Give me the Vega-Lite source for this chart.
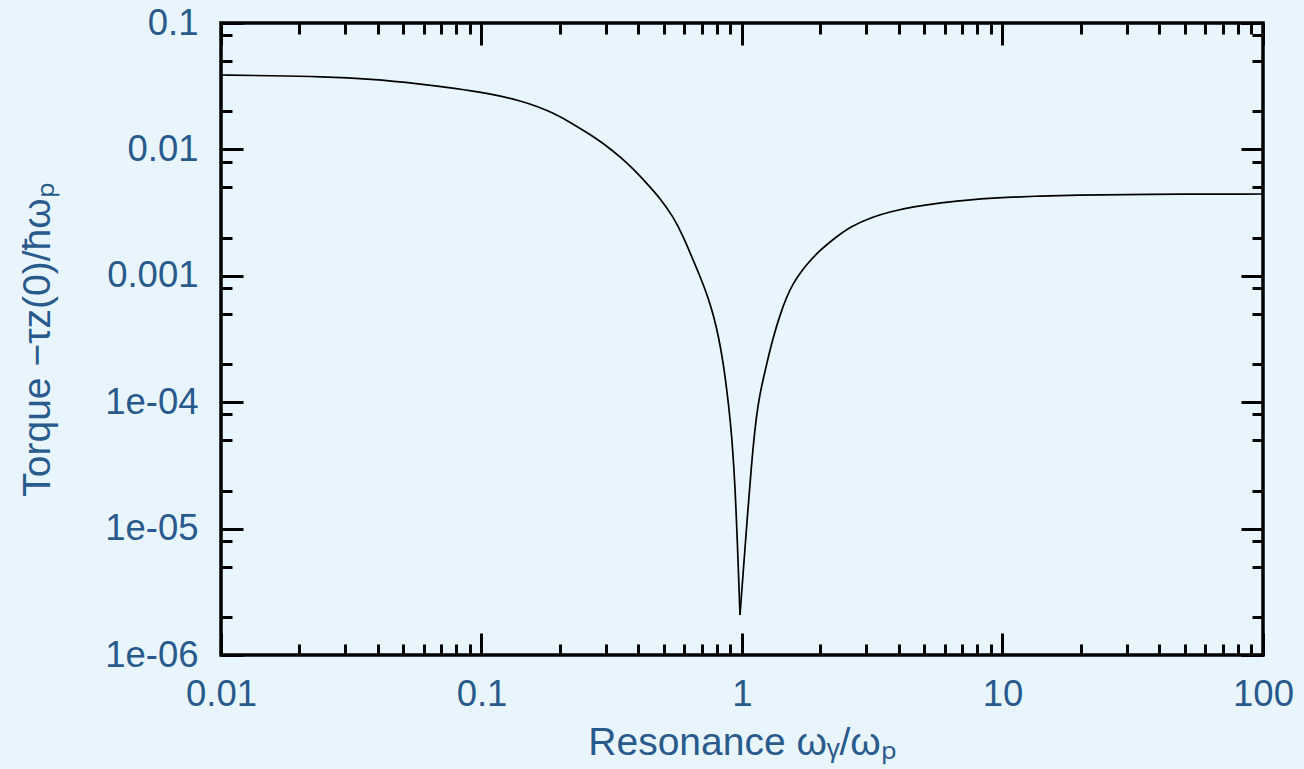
{
  "$schema": "https://vega.github.io/schema/vega-lite/v6.json",
  "width": 1042,
  "height": 632,
  "autosize": {"type": "none"},
  "padding": {"left": 221, "top": 23, "right": 41, "bottom": 114},
  "background": "#e9f5fd",
  "config": {
    "view": {"stroke": "#000000", "strokeWidth": 3.5, "fill": null},
    "axis": {
      "domain": false,
      "grid": false,
      "tickColor": "#000000",
      "tickWidth": 3,
      "labelFont": "Liberation Sans",
      "labelFontSize": 36.5,
      "labelColor": "#295a8c",
      "labelOverlap": false,
      "labelFlush": false,
      "labelBound": false,
      "titleFont": "Liberation Sans",
      "titleFontSize": 39,
      "titleFontWeight": "normal",
      "titleColor": "#295a8c"
    }
  },
  "data": {
    "values": [
      {"branch": "below", "ratio": 0.01, "torque": 0.03879},
      {"branch": "below", "ratio": 0.01556, "torque": 0.0383},
      {"branch": "below", "ratio": 0.0242, "torque": 0.03761},
      {"branch": "below", "ratio": 0.03765, "torque": 0.03606},
      {"branch": "below", "ratio": 0.05857, "torque": 0.03292},
      {"branch": "below", "ratio": 0.07864, "torque": 0.03044},
      {"branch": "below", "ratio": 0.1059, "torque": 0.02779},
      {"branch": "below", "ratio": 0.1418, "torque": 0.02428},
      {"branch": "below", "ratio": 0.1643, "torque": 0.02177},
      {"branch": "below", "ratio": 0.1898, "torque": 0.0193},
      {"branch": "below", "ratio": 0.2207, "torque": 0.01626},
      {"branch": "below", "ratio": 0.2564, "torque": 0.01341},
      {"branch": "below", "ratio": 0.2961, "torque": 0.01103},
      {"branch": "below", "ratio": 0.3431, "torque": 0.008628},
      {"branch": "below", "ratio": 0.3826, "torque": 0.006996},
      {"branch": "below", "ratio": 0.4305, "torque": 0.0054},
      {"branch": "below", "ratio": 0.4843, "torque": 0.004124},
      {"branch": "below", "ratio": 0.5447, "torque": 0.002935},
      {"branch": "below", "ratio": 0.5953, "torque": 0.002038},
      {"branch": "below", "ratio": 0.641, "torque": 0.001416},
      {"branch": "below", "ratio": 0.6899, "torque": 0.0009963},
      {"branch": "below", "ratio": 0.7427, "torque": 0.0006675},
      {"branch": "below", "ratio": 0.776, "torque": 0.0004897},
      {"branch": "below", "ratio": 0.8116, "torque": 0.0003371},
      {"branch": "below", "ratio": 0.8478, "torque": 0.0002032},
      {"branch": "below", "ratio": 0.8742, "torque": 0.0001249},
      {"branch": "below", "ratio": 0.8994, "torque": 0.0000768},
      {"branch": "below", "ratio": 0.94, "torque": 0.00002655},
      {"branch": "below", "ratio": 0.9824, "torque": 0.000002073},
      {"branch": "above", "ratio": 0.9824, "torque": 0.000002073},
      {"branch": "above", "ratio": 1.0268, "torque": 0.000007022},
      {"branch": "above", "ratio": 1.0894, "torque": 0.00003488},
      {"branch": "above", "ratio": 1.1386, "torque": 0.00008215},
      {"branch": "above", "ratio": 1.1724, "torque": 0.0001161},
      {"branch": "above", "ratio": 1.2072, "torque": 0.000154},
      {"branch": "above", "ratio": 1.262, "torque": 0.0002279},
      {"branch": "above", "ratio": 1.3186, "torque": 0.0003279},
      {"branch": "above", "ratio": 1.3988, "torque": 0.0004898},
      {"branch": "above", "ratio": 1.484, "torque": 0.0006832},
      {"branch": "above", "ratio": 1.573, "torque": 0.000872},
      {"branch": "above", "ratio": 1.67, "torque": 0.001046},
      {"branch": "above", "ratio": 1.7716, "torque": 0.001229},
      {"branch": "above", "ratio": 1.9924, "torque": 0.0016},
      {"branch": "above", "ratio": 2.309, "torque": 0.002038},
      {"branch": "above", "ratio": 2.598, "torque": 0.002445},
      {"branch": "above", "ratio": 3.192, "torque": 0.002935},
      {"branch": "above", "ratio": 3.699, "torque": 0.003214},
      {"branch": "above", "ratio": 4.546, "torque": 0.003522},
      {"branch": "above", "ratio": 5.755, "torque": 0.003787},
      {"branch": "above", "ratio": 7.727, "torque": 0.004028},
      {"branch": "above", "ratio": 10.38, "torque": 0.004178},
      {"branch": "above", "ratio": 13.93, "torque": 0.004278},
      {"branch": "above", "ratio": 18.7, "torque": 0.004357},
      {"branch": "above", "ratio": 33.72, "torque": 0.004414},
      {"branch": "above", "ratio": 100, "torque": 0.004439}
    ]
  },
  "resolve": {"axis": {"x": "independent", "y": "independent"}},
  "layer": [
    {
      "mark": {"type": "line", "color": "#000000", "strokeWidth": 1.7, "interpolate": "basis"},
      "encoding": {
        "detail": {"field": "branch", "type": "nominal"},
        "x": {
          "field": "ratio",
          "type": "quantitative",
          "scale": {"type": "log", "domain": [0.01, 100], "nice": false},
          "axis": {
            "orient": "bottom",
            "title": "Resonance ωᵧ/ωₚ",
            "values": [0.01, 0.02, 0.03, 0.04, 0.05, 0.06, 0.07, 0.08, 0.09, 0.1, 0.2, 0.3, 0.4, 0.5, 0.6, 0.7, 0.8, 0.9, 1, 2, 3, 4, 5, 6, 7, 8, 9, 10, 20, 30, 40, 50, 60, 70, 80, 90, 100],
            "tickSize": {"condition": {"test": "abs(log(datum.value)/LN10 - round(log(datum.value)/LN10)) < 0.001", "value": -22}, "value": -11},
            "labelExpr": "abs(log(datum.value)/LN10 - round(log(datum.value)/LN10)) < 0.001 ? format(datum.value, '~g') : ''",
            "labelPadding": 43,
            "titlePadding": 0
          }
        },
        "y": {
          "field": "torque",
          "type": "quantitative",
          "scale": {"type": "log", "domain": [0.000001, 0.1], "nice": false},
          "axis": {
            "orient": "left",
            "title": "Torque −τz(0)/ħωₚ",
            "values": [0.000001, 0.000002, 0.000005, 0.000008, 0.00001, 0.00002, 0.00005, 0.00008, 0.0001, 0.0002, 0.0005, 0.0008, 0.001, 0.002, 0.005, 0.008, 0.01, 0.02, 0.05, 0.08, 0.1],
            "tickSize": {"condition": {"test": "abs(log(datum.value)/LN10 - round(log(datum.value)/LN10)) < 0.001", "value": -22}, "value": -11},
            "labelExpr": "abs(log(datum.value)/LN10 - round(log(datum.value)/LN10)) < 0.001 ? (datum.value > 0.0005 ? format(datum.value, '~g') : '1e-0' + toString(-round(log(datum.value)/LN10))) : ''",
            "labelPadding": 45,
            "titlePadding": 47
          }
        }
      }
    },
    {
      "mark": {"type": "line", "opacity": 0},
      "encoding": {
        "detail": {"field": "branch", "type": "nominal"},
        "x": {
          "field": "ratio",
          "type": "quantitative",
          "scale": {"type": "log", "domain": [0.01, 100], "nice": false},
          "axis": {
            "orient": "top",
            "title": null,
            "labels": false,
            "values": [0.01, 0.02, 0.03, 0.04, 0.05, 0.06, 0.07, 0.08, 0.09, 0.1, 0.2, 0.3, 0.4, 0.5, 0.6, 0.7, 0.8, 0.9, 1, 2, 3, 4, 5, 6, 7, 8, 9, 10, 20, 30, 40, 50, 60, 70, 80, 90, 100],
            "tickSize": {"condition": {"test": "abs(log(datum.value)/LN10 - round(log(datum.value)/LN10)) < 0.001", "value": -22}, "value": -11}
          }
        },
        "y": {
          "field": "torque",
          "type": "quantitative",
          "scale": {"type": "log", "domain": [0.000001, 0.1], "nice": false},
          "axis": {
            "orient": "right",
            "title": null,
            "labels": false,
            "values": [0.000001, 0.000002, 0.000005, 0.000008, 0.00001, 0.00002, 0.00005, 0.00008, 0.0001, 0.0002, 0.0005, 0.0008, 0.001, 0.002, 0.005, 0.008, 0.01, 0.02, 0.05, 0.08, 0.1],
            "tickSize": {"condition": {"test": "abs(log(datum.value)/LN10 - round(log(datum.value)/LN10)) < 0.001", "value": -22}, "value": -11}
          }
        }
      }
    }
  ]
}
